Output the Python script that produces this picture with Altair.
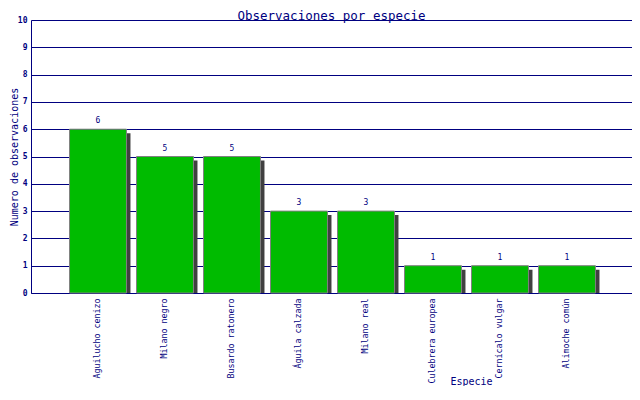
import altair as alt
import pandas as pd

especies = ["Aguilucho cenizo", "Milano negro", "Busardo ratonero", "Águila calzada",
            "Milano real", "Culebrera europea", "Cernícalo vulgar", "Alimoche común"]
observaciones = [6, 5, 5, 3, 3, 1, 1, 1]
y_ticks = [0, 1, 2, 3, 4, 5, 6, 7, 8, 9, 10]

df = pd.DataFrame({"Especie": especies, "Obs": observaciones})

NAVY = "#000080"
FONT = "DejaVu Sans Mono"

xscale = alt.Scale(paddingInner=0.15, paddingOuter=0.575, range=[0, 603])
yscale = alt.Scale(domain=[0, 10], nice=False)

x = alt.X("Especie:N", sort=None, scale=xscale,
          axis=alt.Axis(title="Especie", labelAngle=270, labelAlign="right",
                        labelBaseline="middle", labelPadding=5, ticks=False,
                        labelFont=FONT, labelFontSize=8.3, labelColor=NAVY,
                        titleFont=FONT, titleFontSize=10, titleColor=NAVY,
                        titleFontWeight="normal", titleX=440, titleY=88,
                        titleBaseline="middle", titleAnchor="middle",
                        domainColor=NAVY, labelOverlap=False))
y = alt.Y("Obs:Q", scale=yscale,
          axis=alt.Axis(title="Numero de observaciones", values=y_ticks,
                        ticks=False, labelPadding=4, grid=True, gridColor=NAVY,
                        gridOpacity=1, gridWidth=1, labelOverlap=False,
                        labelFont=FONT, labelFontSize=8, labelFontWeight="bold",
                        labelColor=NAVY, titleFont=FONT, titleFontSize=10,
                        titleColor=NAVY, titleFontWeight="normal",
                        titleX=-17, titleY=136.5, titleBaseline="middle",
                        domainColor=NAVY))

base = alt.Chart(df)

shadow = base.mark_bar(color="#404040", xOffset=4, yOffset=4, clip=True).encode(
    x=x, y=y, y2=alt.datum(0))
bars = base.mark_bar(color="#00BB00", stroke="#808080", strokeWidth=1).encode(
    x=x, y=y, y2=alt.datum(0))
labels = base.mark_text(font=FONT, fontSize=8, color=NAVY, baseline="bottom", dy=-4).encode(
    x=x, y=y, text="Obs:Q")

chart = alt.layer(shadow, bars, labels).properties(
    width=601, height=273,
    title=alt.Title("Observaciones por especie", font=FONT, fontSize=12.5, color=NAVY,
                    fontWeight="normal", anchor="middle", offset=-6),
    autosize=alt.AutoSizeParams(type="none"),
    padding={"left": 23, "top": 12, "right": 0, "bottom": 93},
).configure_view(stroke=NAVY, strokeWidth=1).configure(background="white")

chart.save("out.html", embed_options={"renderer": "svg", "actions": False})
